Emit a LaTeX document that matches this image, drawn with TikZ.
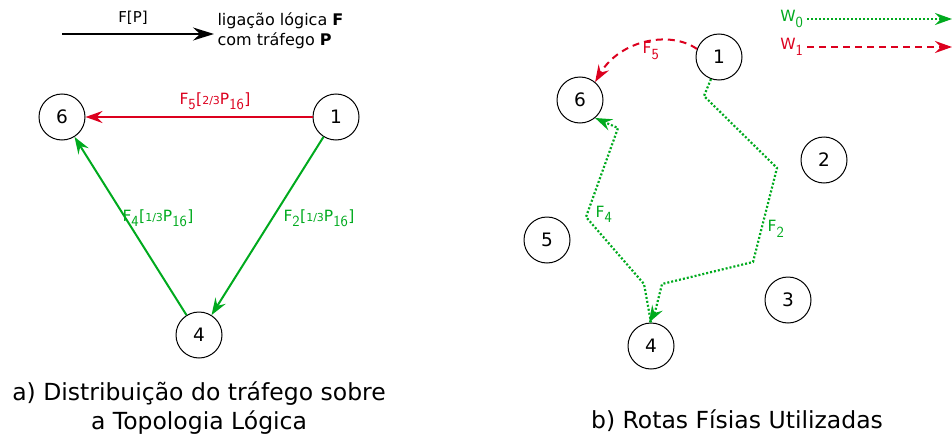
\documentclass[tikz,border=0pt]{standalone}
\usepackage{fontspec}
\setmainfont{DejaVu Sans}
\usetikzlibrary{arrows.meta}
\definecolor{rd}{RGB}{220,0,30}
\definecolor{gn}{RGB}{0,170,30}
\begin{document}
\begin{tikzpicture}[x=1pt,y=-1pt,
  nd/.style={circle,draw,line width=1pt,minimum size=46pt,inner sep=0pt,font=\fontsize{18.5}{18.5}\selectfont},
  tip/.style={-{Stealth[length=17pt,width=12pt,inset=6pt]}},
  bigtip/.style={-{Stealth[length=21pt,width=13pt,inset=7pt]}},
  lbl/.style={font=\fontsize{15.5}{15.5}\selectfont},
  captxt/.style={font=\fontsize{23.5}{29.5}\selectfont,align=center},
  lnk/.style={line width=2pt,tip},
  wdot/.style={gn,line width=2.2pt,dash pattern=on 2pt off 2pt,tip},
  wdash/.style={rd,line width=2pt,dash pattern=on 7pt off 5pt,tip}]
\useasboundingbox (0,0) rectangle (952,436);
% legend left
\coordinate (la) at (62,34);
\coordinate (lb) at (214,34);
\draw[line width=2pt,bigtip] (la) -- (lb);
\node[lbl,font=\fontsize{15}{15}\selectfont] (lfp) at (133,18) {F[P]};
\node[lbl,anchor=west,align=left,font=\fontsize{16}{20}\selectfont] (ltx) at (214,31) {ligação lógica \textbf{F}\\com tráfego \textbf{P}};
% left graph
\node[nd] (a6) at (62,117) {6};
\node[nd] (a1) at (336,117) {1};
\node[nd] (a4) at (199,335) {4};
\draw[lnk,rd] (a1) -- (a6);
\draw[lnk,gn] (a1) -- (a4);
\draw[lnk,gn] (a4) -- (a6);
\node[lbl,rd] (l5) at (215,101) {F$_{\textsf{5}}$[{\fontsize{11}{11}\selectfont 2/3}P$_{\textsf{16}}$]};
\node[lbl,gn] (l2) at (319,218) {F$_{\textsf{2}}$[{\fontsize{11}{11}\selectfont 1/3}P$_{\textsf{16}}$]};
\node[lbl,gn] (l4) at (158,218) {F$_{\textsf{4}}$[{\fontsize{11}{11}\selectfont 1/3}P$_{\textsf{16}}$]};
% right graph
\node[nd] (b1) at (719,57) {1};
\node[nd] (b6) at (580,100) {6};
\node[nd] (b2) at (824,160) {2};
\node[nd] (b5) at (547,240) {5};
\node[nd] (b3) at (788,300) {3};
\node[nd] (b4) at (651,346) {4};
\draw[wdash] (b1.160) .. controls (670,30) and (620,40) .. (b6.50);
\node[lbl,rd] (r5) at (651,51) {F$_{\textsf{5}}$};
\draw[wdot] (b1.250) -- (704,96) -- (777,168) -- (753,262) -- (662,284) -- (655,312) -- (b4.95);
\draw[wdot] (b4.90) -- (644,284) -- (586,217) -- (618,128) -- (b6.-50);
\node[lbl,gn] (r4) at (604,214) {F$_{\textsf{4}}$};
\node[lbl,gn] (r2) at (776,229) {F$_{\textsf{2}}$};
% legend right
\node[lbl,gn,anchor=east] (w0) at (807,19) {W$_{\textsf{0}}$};
\coordinate (w0e) at (952,19);
\draw[wdot] (w0) -- (w0e);
\node[lbl,rd,anchor=east] (w1) at (807,47) {W$_{\textsf{1}}$};
\coordinate (w1e) at (952,47);
\draw[wdash] (w1) -- (w1e);
% captions
\node[captxt] (ca) at (199,408) {a) Distribuição do tráfego sobre\\a Topologia Lógica};
\node[captxt] (cb) at (737,421) {b) Rotas Físias Utilizadas};
\end{tikzpicture}
\end{document}
